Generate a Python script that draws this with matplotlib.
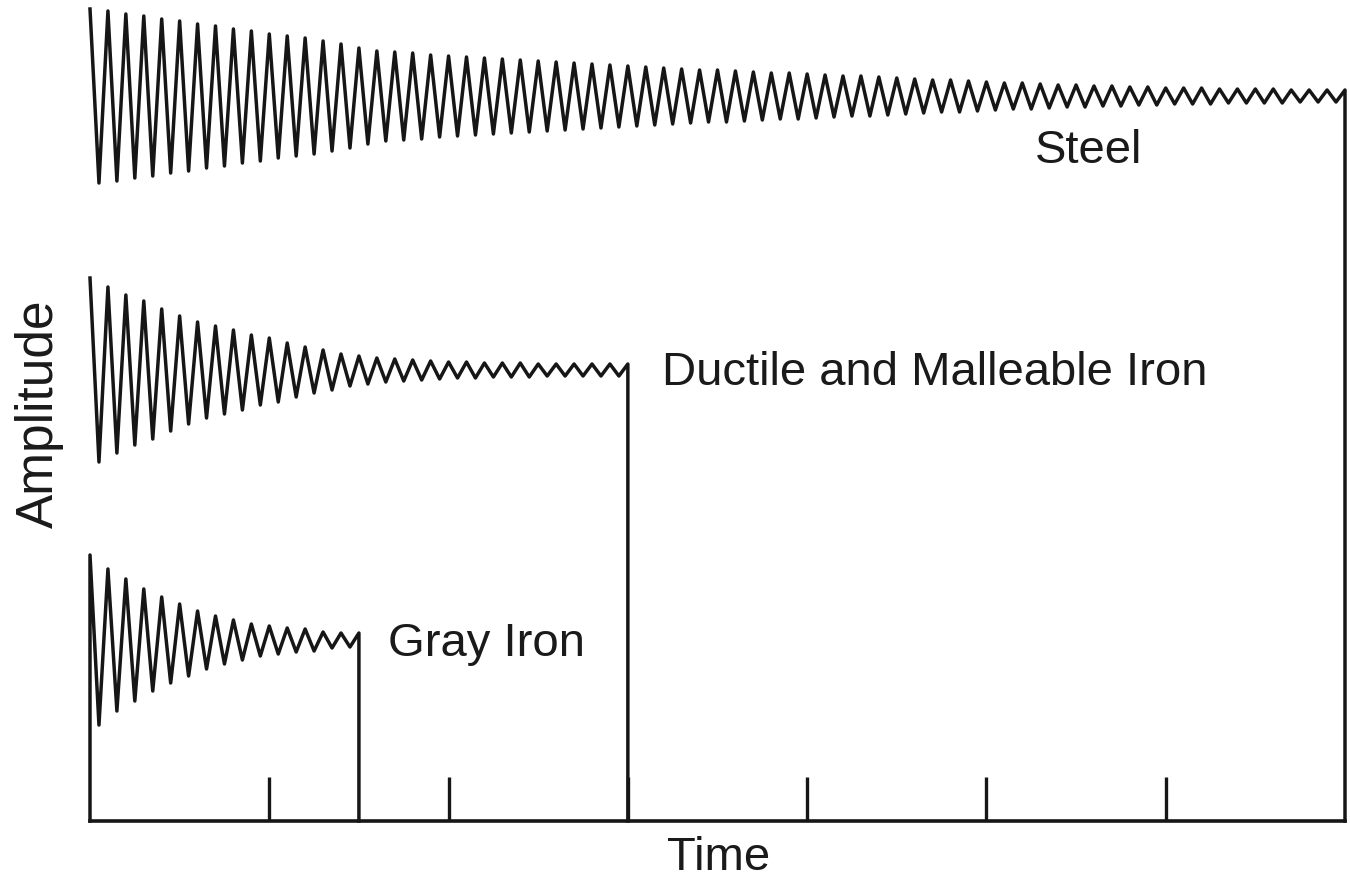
import matplotlib.pyplot as plt

plt.rcParams['font.family'] = ['Liberation Sans', 'DejaVu Sans']

# half peak-to-peak amplitude of each cycle (one cycle = 0.1 time units)
steel_amp = [87, 85, 82, 80, 77, 75, 72, 70, 67, 65,
             62, 60, 58, 55, 52, 48, 45, 44, 43, 41,
             40, 39, 38, 37, 36, 35, 34, 33, 32, 31,
             30, 29, 28, 27, 26, 26, 25, 24, 23, 23,
             22, 21, 20, 20, 19, 18, 17, 16, 16, 15,
             14, 13, 13, 12, 11, 11, 10, 10, 9, 9,
             8, 8, 8, 7, 7, 7, 7, 6, 6, 6]
ductile_amp = [92, 83, 75, 69, 61, 54, 48, 44, 40, 35,
               32, 27, 23, 20, 16, 14, 12, 11, 10, 9,
               8, 8, 7, 7, 7, 6, 6, 6, 6, 6]
gray_amp = [85, 71, 61, 51, 43, 36, 29, 24, 20, 16, 14, 12, 11, 8, 7]

# resting level of each trace
steel_mid, ductile_mid, gray_mid = 725, 451, 181

tick_pos = [1, 2, 3, 4, 5, 6]
labels = ['Steel', 'Ductile and Malleable Iron', 'Gray Iron']


def zigzag(amps, mid, step=0.1):
    xs, ys = [], []
    for k, a in enumerate(amps):
        xs += [k * step, k * step + step / 2]
        ys += [mid + a, mid - a]
    end = len(amps) * step
    xs += [end, end]
    ys += [mid + amps[-1], 0]
    return xs, ys


fig = plt.figure(figsize=(13.5, 8.78), dpi=100)
ax = fig.add_axes([90 / 1350, 56 / 878, 1255 / 1350, 822 / 878])

ink = '#161616'
for amps, mid in [(steel_amp, steel_mid), (ductile_amp, ductile_mid), (gray_amp, gray_mid)]:
    xs, ys = zigzag(amps, mid)
    if amps is gray_amp:
        xs, ys = [0] + xs, [0] + ys
    ax.plot(xs, ys, color=ink, lw=2.5, clip_on=False)

ax.set_xlim(0, 7.0)
ax.set_ylim(0, 822)
for s in ['top', 'right', 'left']:
    ax.spines[s].set_visible(False)
ax.spines['bottom'].set_linewidth(2.6)
ax.spines['bottom'].set_color(ink)
ax.set_xticks(tick_pos)
ax.set_yticks([])
ax.tick_params(axis='x', direction='in', length=32, width=2.4, color=ink, labelbottom=False)

txt = dict(fontsize=34, color='#1a1a1a', va='baseline')
ax.text(5.27, 822 - 163, labels[0], **txt)
ax.text(3.19, 822 - 385, labels[1], **txt)
ax.text(1.66, 822 - 656, labels[2], **txt)

fig.text(719 / 1350, 1 - 870 / 878, 'Time', ha='center', **txt)
fig.text(53 / 1350, 1 - 414 / 878, 'Amplitude', ha='center', rotation=90,
         rotation_mode='anchor', fontsize=37, color='#1a1a1a', va='baseline')

fig.savefig('out.png', dpi=100, facecolor='white')
